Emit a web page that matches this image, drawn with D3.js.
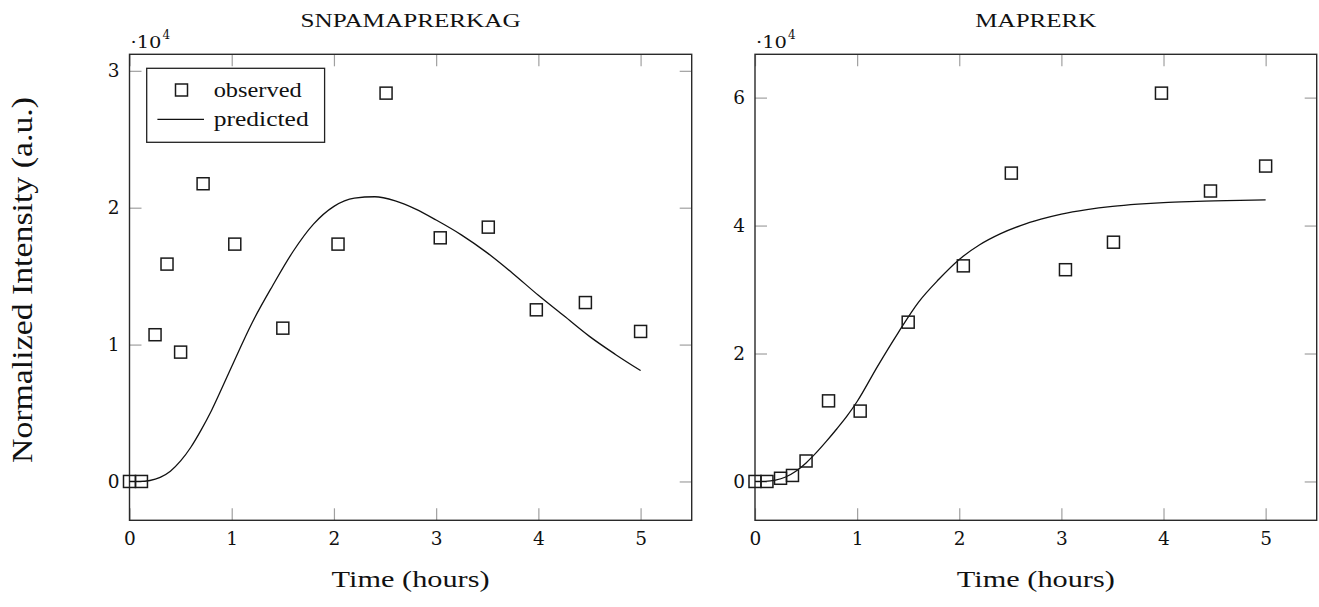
<!DOCTYPE html>
<html><head><meta charset="utf-8">
<script src="https://cdn.jsdelivr.net/npm/d3@7"></script>
<style>
body{margin:0;background:#fff}
text{font-family:"Liberation Serif","DejaVu Serif",serif;fill:#111}
text.num{font-family:"DejaVu Serif","Liberation Serif",serif}
</style>
</head><body>
<svg id="chart" width="1319" height="607"></svg>
<script>
// ---- data ----
const panelTitles = ["SNPAMAPRERKAG", "MAPRERK"];
const timeHours = [0, 0.117, 0.25, 0.367, 0.5, 0.72, 1.03, 1.5, 2.04, 2.51, 3.04, 3.51, 3.98, 4.46, 5.0];
const observedSNPAMAPRERKAG = [0, 0, 10720, 15880, 9450, 21750, 17340, 11200, 17340, 28370, 17800, 18580, 12540, 13070, 10960];
const observedMAPRERK = [0, 0, 500, 940, 3200, 12600, 11000, 24900, 33700, 48200, 33100, 37400, 60700, 45400, 49300];
const predTime = [0, 0.1, 0.2, 0.3, 0.4, 0.5, 0.6, 0.7, 0.8, 0.9, 1.0, 1.2, 1.4, 1.6, 1.8, 2.0, 2.2, 2.4, 2.6, 2.8, 3.0, 3.25, 3.5, 3.75, 4.0, 4.25, 4.5, 4.75, 5.0];
const predictedSNPAMAPRERKAG = [0, 0, 70, 300, 750, 1500, 2500, 3750, 5150, 6750, 8400, 11600, 14300, 16800, 18800, 20100, 20700, 20800, 20500, 19900, 19100, 18000, 16700, 15200, 13600, 12100, 10600, 9300, 8100];
const predictedMAPRERK = [0, 20, 200, 700, 1600, 2900, 4500, 6300, 8200, 10200, 12500, 18000, 23200, 28000, 31600, 34700, 37000, 38700, 40000, 41000, 41800, 42500, 43000, 43350, 43600, 43750, 43850, 43950, 44000];
const xTicks = [0, 1, 2, 3, 4, 5];
const yTicksA = [0, 10000, 20000, 30000];
const yTicksB = [0, 20000, 40000, 60000];
const legendLabels = ["observed", "predicted"];
const xLabel = "Time (hours)";
const yLabel = "Normalized Intensity (a.u.)";

const svg = d3.select("#chart");
const plotTop = 54.3, plotBottom = 520.3;

function drawPanel(cfg) {
  const g = svg.append("g");
  const x = d3.scaleLinear().domain([0, 5.5]).range([cfg.left, cfg.right]);
  const ext = d3.extent(cfg.obs.concat(cfg.pred));
  const pad = (ext[1] - ext[0]) * 0.1;
  const y = d3.scaleLinear().domain([ext[0] - pad, ext[1] + pad]).range([plotBottom, plotTop]);
  const fmt = v => String(v / 1e4);

  const styleAxis = a => {
    a.select(".domain").remove();
    a.selectAll(".tick line").attr("stroke", "#a0a0a0").attr("stroke-width", 1.2);
    a.selectAll(".tick text").attr("class", "num").style("font-size", "18.5px").style("fill", "#111");
  };
  g.append("g").attr("transform", `translate(0,${plotBottom})`)
    .call(d3.axisBottom(x).tickValues(xTicks).tickSize(-12).tickPadding(12).tickFormat(d3.format("d")))
    .call(styleAxis);
  g.append("g").attr("transform", `translate(0,${plotTop})`)
    .call(d3.axisTop(x).tickValues(xTicks).tickSize(-12).tickFormat(() => ""))
    .call(styleAxis);
  g.append("g").attr("transform", `translate(${cfg.left},0)`)
    .call(d3.axisLeft(y).tickValues(cfg.yTicks).tickSize(-12).tickPadding(10).tickFormat(fmt))
    .call(styleAxis);
  g.append("g").attr("transform", `translate(${cfg.right},0)`)
    .call(d3.axisRight(y).tickValues(cfg.yTicks).tickSize(-12).tickFormat(() => ""))
    .call(styleAxis);

  // frame
  g.append("rect").attr("x", cfg.left).attr("y", plotTop)
    .attr("width", cfg.right - cfg.left).attr("height", plotBottom - plotTop)
    .attr("fill", "none").attr("stroke", "#2a2a2a").attr("stroke-width", 1.4);

  // predicted curve
  const line = d3.line().x((d, i) => x(predTime[i])).y(d => y(d)).curve(d3.curveMonotoneX);
  g.append("path").datum(cfg.pred).attr("d", line)
    .attr("fill", "none").attr("stroke", "#111").attr("stroke-width", 1.3);

  // observed squares
  const s = 12;
  g.selectAll("rect.obs").data(cfg.obs).join("rect").attr("class", "obs")
    .attr("x", (d, i) => x(timeHours[i]) - s / 2).attr("y", d => y(d) - s / 2)
    .attr("width", s).attr("height", s)
    .attr("fill", "none").attr("stroke", "#1a1a1a").attr("stroke-width", 1.5);

  // title
  const cx = (cfg.left + cfg.right) / 2;
  g.append("text").attr("x", cx).attr("y", 26.7).attr("text-anchor", "middle")
    .style("font-size", "18.5px").attr("textLength", cfg.titleLen).attr("lengthAdjust", "spacingAndGlyphs")
    .text(cfg.title);
  // exponent marker
  g.append("text").attr("class", "num").attr("x", cfg.left + 1).attr("y", 47.5).style("font-size", "17px")
    .attr("textLength", 31).attr("lengthAdjust", "spacingAndGlyphs").text("·10");
  g.append("text").attr("class", "num").attr("x", cfg.left + 33).attr("y", 38.5).style("font-size", "12px").text("4");
  // x label
  g.append("text").attr("x", cx).attr("y", 587.3).attr("text-anchor", "middle")
    .style("font-size", "23px").attr("textLength", 158).attr("lengthAdjust", "spacingAndGlyphs")
    .text(xLabel);

  if (cfg.legend) {
    const lg = g.append("g");
    lg.append("rect").attr("x", 146.7).attr("y", 68.3).attr("width", 177.9).attr("height", 74)
      .attr("fill", "#fff").attr("stroke", "#222").attr("stroke-width", 1.3);
    lg.append("rect").attr("x", 181.5 - s / 2).attr("y", 90 - s / 2).attr("width", s).attr("height", s)
      .attr("fill", "none").attr("stroke", "#1a1a1a").attr("stroke-width", 1.5);
    lg.append("line").attr("x1", 157.4).attr("x2", 204).attr("y1", 119.3).attr("y2", 119.3)
      .attr("stroke", "#111").attr("stroke-width", 1.3);
    lg.append("text").attr("x", 213.7).attr("y", 96.5).style("font-size", "21px")
      .attr("textLength", 88).attr("lengthAdjust", "spacingAndGlyphs").text(legendLabels[0]);
    lg.append("text").attr("x", 213.7).attr("y", 126).style("font-size", "21px")
      .attr("textLength", 95).attr("lengthAdjust", "spacingAndGlyphs").text(legendLabels[1]);
  }
}

drawPanel({left: 129.5, right: 691.7, obs: observedSNPAMAPRERKAG, pred: predictedSNPAMAPRERKAG,
  yTicks: yTicksA, title: panelTitles[0], titleLen: 220, legend: true});
drawPanel({left: 755, right: 1316.7, obs: observedMAPRERK, pred: predictedMAPRERK,
  yTicks: yTicksB, title: panelTitles[1], titleLen: 121, legend: false});

svg.append("text").attr("transform", "translate(32,280) rotate(-90)")
  .attr("text-anchor", "middle").style("font-size", "29px")
  .attr("textLength", 366).attr("lengthAdjust", "spacingAndGlyphs").text(yLabel);
</script>
</body></html>
